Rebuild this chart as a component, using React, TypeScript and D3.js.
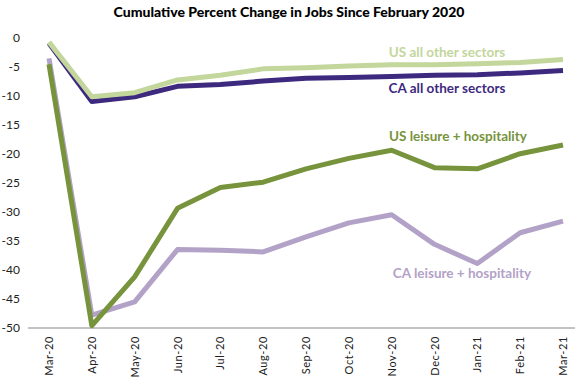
import React from "react";
import * as d3 from "d3";

const months = ["Mar-20","Apr-20","May-20","Jun-20","Jul-20","Aug-20","Sep-20","Oct-20","Nov-20","Dec-20","Jan-21","Feb-21","Mar-21"];
const usOther = [-0.8,-10.2,-9.5,-7.3,-6.5,-5.4,-5.2,-4.9,-4.7,-4.7,-4.5,-4.3,-3.8];
const caOther = [-1.0,-11.0,-10.2,-8.4,-8.1,-7.5,-7.0,-6.9,-6.7,-6.5,-6.4,-6.1,-5.7];
const usLeisure = [-4.6,-49.6,-41.2,-29.4,-25.8,-24.9,-22.6,-20.8,-19.4,-22.4,-22.6,-20.0,-18.5];
const caLeisure = [-3.6,-47.8,-45.5,-36.5,-36.6,-36.9,-34.3,-31.9,-30.5,-35.6,-38.9,-33.6,-31.6];
const yTicks = [0,-5,-10,-15,-20,-25,-30,-35,-40,-45,-50];

const series = [
  { name: "CA leisure + hospitality", values: caLeisure, color: "#b3a2c7" },
  { name: "US leisure + hospitality", values: usLeisure, color: "#77933c" },
  { name: "CA all other sectors", values: caOther, color: "#3d2a7f" },
  { name: "US all other sectors", values: usOther, color: "#c3d69b" },
];

const labels = [
  { text: "US all other sectors", x: 447, y: 57, color: "#c3d69b" },
  { text: "CA all other sectors", x: 447, y: 93, color: "#3d2a7f" },
  { text: "US leisure + hospitality", x: 458, y: 141, color: "#77933c" },
  { text: "CA leisure + hospitality", x: 462, y: 278, color: "#b3a2c7" },
];

export default function App() {
  const W = 575, H = 383;
  const x = d3.scalePoint<string>().domain(months).range([49, 563]);
  const y = d3.scaleLinear().domain([-50, 0]).range([328, 37.5]);
  const line = d3.line<number>().x((_, i) => x(months[i]) as number).y((d) => y(d));
  const font = "Lato, 'Open Sans', sans-serif";
  return (
    <svg width={W} height={H} style={{ position: "absolute", left: 0, top: 0, background: "#fff" }} fontFamily={font}>
      <text x={289} y={17} textAnchor="middle" fontWeight="900" fontSize={14} fill="#000">
        Cumulative Percent Change in Jobs Since February 2020
      </text>
      {yTicks.map((t) => (
        <text key={t} x={20} y={y(t) + 4} textAnchor="end" fontSize={12} fill="#222">{t}</text>
      ))}
      <line x1={28} x2={575} y1={y(-50)} y2={y(-50)} stroke="#868686" strokeWidth={1} />
      {months.map((m) => (
        <text key={m} transform={`translate(${(x(m) as number) + 4},${336}) rotate(-90)`} textAnchor="end" fontSize={11} fill="#222" letterSpacing={0.6}>{m}</text>
      ))}
      {series.map((s) => (
        <path key={s.name} d={line(s.values) || ""} fill="none" stroke={s.color} strokeWidth={5} strokeLinejoin="round" />
      ))}
      {labels.map((l) => (
        <text key={l.text} x={l.x} y={l.y} textAnchor="middle" fontSize={13.5} fontWeight="bold" fill={l.color}>{l.text}</text>
      ))}
    </svg>
  );
}
